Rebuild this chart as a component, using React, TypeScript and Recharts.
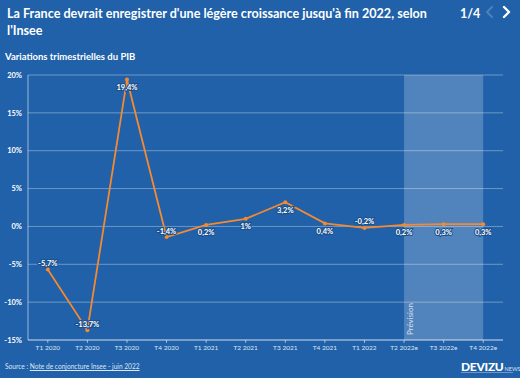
import React from 'react';
import { LineChart, Line, XAxis, YAxis, CartesianGrid, ReferenceArea, LabelList } from 'recharts';

const categories = ['T1 2020', 'T2 2020', 'T3 2020', 'T4 2020', 'T1 2021', 'T2 2021', 'T3 2021', 'T4 2021', 'T1 2022', 'T2 2022e', 'T3 2022e', 'T4 2022e'];
const gdpVariation = [-5.7, -13.7, 19.4, -1.4, 0.2, 1, 3.2, 0.4, -0.2, 0.2, 0.3, 0.3];
const yTicks = [-15, -10, -5, 0, 5, 10, 15, 20];
const forecastStart = 9;
const forecastEnd = 11;

const data = categories.map((c, i) => ({ idx: i, label: c, value: gdpVariation[i] }));

const BG = '#2061a9';
const ORANGE = '#f5892f';
const FONT = 'Lato, "Noto Sans", sans-serif';

const fmt = (v: number) => `${String(v).replace('.', ',')}%`;

const ValueLabel = (props: any) => {
  const { x, y, value } = props;
  const dy = value < 0 ? -6 : 8;
  return (
    <text
      x={x}
      y={y + dy}
      textAnchor="middle"
      dominantBaseline="central"
      fontSize={7.5}
      fontWeight={700}
      fontFamily={FONT}
      fill="#ffffff"
      stroke="#1b4f8c"
      strokeWidth={2}
      paintOrder="stroke"
    >
      {fmt(value)}
    </text>
  );
};

const PrevisionLabel = (props: any) => {
  const { viewBox } = props;
  const x = viewBox.x + 6;
  const y = viewBox.y + viewBox.height - 5;
  return (
    <text
      x={x}
      y={y}
      transform={`rotate(-90 ${x} ${y})`}
      textAnchor="start"
      dominantBaseline="central"
      fontSize={8}
      fontFamily={FONT}
      fill="rgba(255,255,255,0.75)"
    >
      Prévision
    </text>
  );
};

export default function App() {
  return (
    <div style={{ position: 'absolute', left: 0, top: 0, width: 520, height: 378, background: BG, fontFamily: FONT, color: '#fff', overflow: 'hidden' }}>
      <div style={{ position: 'absolute', left: 7, top: 5, width: 450, fontSize: 12.6, fontWeight: 700, lineHeight: '17px' }}>
        La France devrait enregistrer d'une légère croissance jusqu'à fin 2022, selon l'Insee
      </div>
      <div style={{ position: 'absolute', left: 460, top: 5, fontSize: 12.5, fontWeight: 700, lineHeight: '17px' }}>1/4</div>
      <svg style={{ position: 'absolute', left: 484, top: 5 }} width={30} height={14}>
        <polyline points="8,2 3,7 8,12" fill="none" stroke="rgba(255,255,255,0.2)" strokeWidth={2.2} strokeLinecap="round" strokeLinejoin="round" />
        <polyline points="20,2 25,7 20,12" fill="none" stroke="#ffffff" strokeWidth={2.4} strokeLinecap="round" strokeLinejoin="round" />
      </svg>
      <div style={{ position: 'absolute', left: 5, top: 51, fontSize: 9.5, fontWeight: 700, lineHeight: '12px' }}>Variations trimestrielles du PIB</div>

      <div style={{ position: 'absolute', left: 0, top: 0 }}>
        <LineChart width={520} height={378} data={data} margin={{ top: 75, right: 17, bottom: 18, left: 0 }}>
          <CartesianGrid horizontal vertical={false} stroke="rgba(255,255,255,0.35)" strokeWidth={1} />
          <ReferenceArea x1={forecastStart} x2={forecastEnd} fill="#ffffff" fillOpacity={0.22} stroke="none" ifOverflow="visible" label={<PrevisionLabel />} />
          <XAxis
            dataKey="idx"
            type="number"
            domain={[-0.5, 11.5]}
            ticks={categories.map((_, i) => i)}
            tickFormatter={(i: number) => categories[i]}
            interval={0}
            height={20}
            stroke="rgba(255,255,255,0.55)"
            tickSize={3}
            tickMargin={2}
            tick={{ fill: '#dde6f2', fontSize: 6.5, fontFamily: FONT }}
            axisLine={{ stroke: 'rgba(255,255,255,0.55)' }}
          />
          <YAxis
            type="number"
            domain={[-15, 20]}
            ticks={yTicks}
            interval={0}
            width={28}
            tickSize={0}
            tickMargin={6}
            tickFormatter={(v: number) => `${v}%`}
            tick={{ fill: '#ffffff', fontSize: 7.5, fontWeight: 700, fontFamily: FONT }}
            axisLine={{ stroke: 'rgba(255,255,255,0.55)' }}
            tickLine={false}
          />
          <Line
            type="linear"
            dataKey="value"
            stroke={ORANGE}
            strokeWidth={1.8}
            dot={{ r: 2, fill: ORANGE, stroke: ORANGE, strokeWidth: 0 }}
            activeDot={false}
            isAnimationActive={false}
          >
            <LabelList dataKey="value" content={<ValueLabel />} />
          </Line>
        </LineChart>
      </div>

      <div style={{ position: 'absolute', left: 5, top: 362, fontSize: 6.6, lineHeight: '9px', color: '#dde6f2' }}>
        Source : <span style={{ textDecoration: 'underline' }}>Note de conjoncture Insee - juin 2022</span>
      </div>
      <div style={{ position: 'absolute', left: 461, top: 359, lineHeight: '12px', whiteSpace: 'nowrap' }}>
        <span style={{ fontSize: 12, fontWeight: 900, letterSpacing: -0.3 }}>DEVIZU</span>
        <span style={{ fontSize: 5.5, marginLeft: 1, color: '#dde6f2' }}>NEWS</span>
      </div>
      <div style={{ position: 'absolute', left: 461, top: 372, width: 52, height: 1, background: 'rgba(255,255,255,0.35)' }} />
    </div>
  );
}
